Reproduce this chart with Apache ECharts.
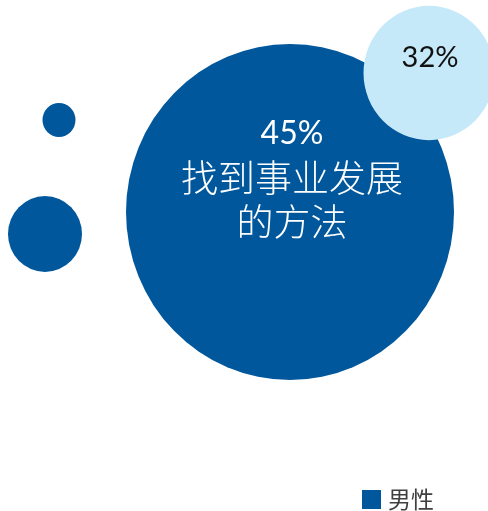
<!DOCTYPE html>
<html>
<head>
<meta charset="utf-8">
<script src="https://cdn.jsdelivr.net/npm/echarts@6/dist/echarts.min.js"></script>
<style>
  html, body { margin: 0; padding: 0; background: #ffffff; }
  #chart { width: 488px; height: 511px; }
</style>
</head>
<body>
<div id="chart"></div>
<script>
// Bubble positions (x, y in page units) and diameters
const maleX = [59, 45, 290];
const maleY = [120, 234, 212];
const maleSize = [33, 74, 328];
const maleLabels = ['', '', '45%'];
const maleCaption = '找到事业发展\n的方法';

const otherX = [429];
const otherY = [73];
const otherSize = [131];
const otherLabels = ['32%'];

const seriesName = '男性';

const darkBlue = '#00579C';
const lightBlue = '#C6E9F9';
// the page is slightly taller than wide in its aspect, bubbles follow it
const yStretch = 1.025;

const chart = echarts.init(document.getElementById('chart'), null, { renderer: 'canvas' });

const bubbleSize = v => [v[2], v[2] * yStretch];

const maleData = maleX.map((x, i) => ({
  value: [x, maleY[i], maleSize[i]],
  label: maleLabels[i] ? {
    show: true,
    formatter: '{a|' + maleLabels[i] + '}\n{b|' + maleCaption.split('\n').join('}\n{b|') + '}',
    offset: [2, -34],
    align: 'center',
    rich: {
      a: { fontFamily: 'Lato, "Noto Sans CJK SC"', fontSize: 32, color: '#ffffff', lineHeight: 44, align: 'center' },
      b: { fontFamily: '"Noto Sans CJK SC"', fontSize: 37, fontWeight: 300, color: '#ffffff', lineHeight: 44, align: 'center' }
    }
  } : { show: false }
}));

const otherData = otherX.map((x, i) => ({
  value: [x, otherY[i], otherSize[i]],
  label: {
    show: true,
    formatter: otherLabels[i],
    offset: [1, -15],
    fontFamily: 'Lato, "Noto Sans CJK SC"',
    fontSize: 29,
    color: '#111111'
  }
}));

chart.setOption({
  animation: false,
  backgroundColor: '#ffffff',
  grid: { left: 0, right: 0, top: 0, bottom: 0 },
  xAxis: { type: 'value', min: 0, max: 488, show: false },
  yAxis: { type: 'value', min: 0, max: 511, inverse: true, show: false },
  legend: {
    data: [seriesName],
    left: 362,
    top: 488,
    padding: 0,
    icon: 'rect',
    itemWidth: 19,
    itemHeight: 19,
    itemGap: 10,
    textStyle: { fontFamily: '"Noto Sans CJK SC"', fontSize: 23, color: '#404040', padding: [0, 0, 0, 2] }
  },
  series: [
    {
      name: seriesName,
      type: 'scatter',
      clip: false,
      symbol: 'circle',
      symbolSize: bubbleSize,
      itemStyle: { color: darkBlue, opacity: 1 },
      label: { position: 'inside' },
      emphasis: { disabled: true },
      data: maleData,
      z: 2
    },
    {
      name: '其他',
      type: 'scatter',
      clip: false,
      symbol: 'circle',
      symbolSize: bubbleSize,
      itemStyle: { color: lightBlue, opacity: 1 },
      label: { position: 'inside' },
      emphasis: { disabled: true },
      data: otherData,
      z: 3
    }
  ]
});
</script>
</body>
</html>
